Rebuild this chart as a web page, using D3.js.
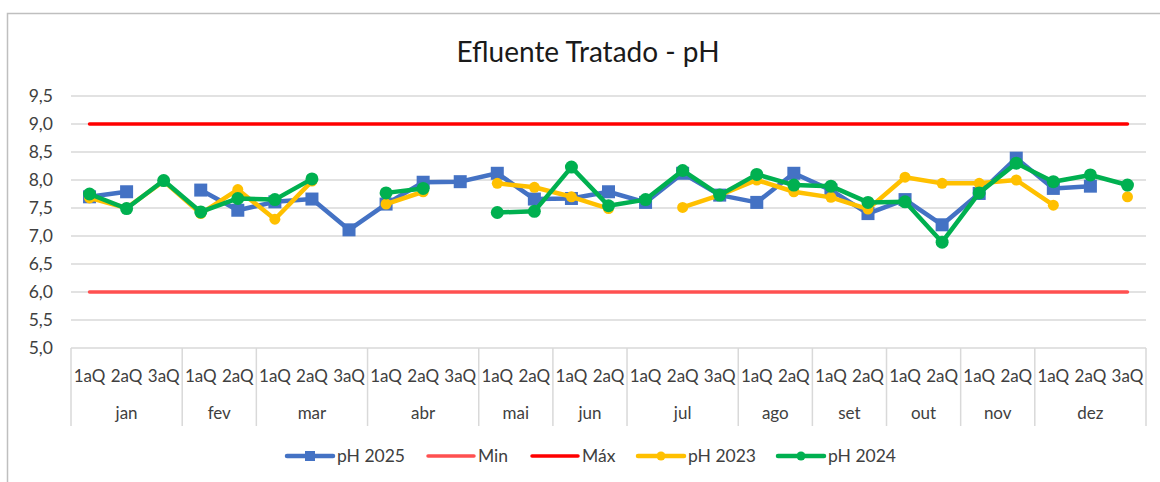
<!DOCTYPE html>
<html>
<head>
<meta charset="utf-8">
<script src="https://cdn.jsdelivr.net/npm/d3@7"></script>
<style>
  html, body { margin: 0; padding: 0; background: #fff; }
  svg { display: block; font-family: Lato, "Open Sans", sans-serif; }
</style>
</head>
<body>
<svg id="chart" width="1160" height="482"></svg>
<script>
// ---- data ----
const monthLabels = ["jan","jan","jan","fev","fev","mar","mar","mar","abr","abr","abr","mai","mai","jun","jun","jul","jul","jul","ago","ago","set","set","out","out","nov","nov","dez","dez","dez"];
const subLabels   = ["1aQ","2aQ","3aQ","1aQ","2aQ","1aQ","2aQ","3aQ","1aQ","2aQ","3aQ","1aQ","2aQ","1aQ","2aQ","1aQ","2aQ","3aQ","1aQ","2aQ","1aQ","2aQ","1aQ","2aQ","1aQ","2aQ","1aQ","2aQ","3aQ"];
const ph2025 = [7.70,7.79,null,7.82,7.46,7.61,7.66,7.11,7.57,7.96,7.97,8.12,7.66,7.67,7.79,7.60,8.12,7.73,7.60,8.12,7.82,7.40,7.65,7.20,7.76,8.39,7.85,7.89,null];
const minVals = [6.0,6.0,6.0,6.0,6.0,6.0,6.0,6.0,6.0,6.0,6.0,6.0,6.0,6.0,6.0,6.0,6.0,6.0,6.0,6.0,6.0,6.0,6.0,6.0,6.0,6.0,6.0,6.0,6.0];
const maxVals = [9.0,9.0,9.0,9.0,9.0,9.0,9.0,9.0,9.0,9.0,9.0,9.0,9.0,9.0,9.0,9.0,9.0,9.0,9.0,9.0,9.0,9.0,9.0,9.0,9.0,9.0,9.0,9.0,9.0];
const ph2023 = [7.68,7.50,7.98,7.40,7.83,7.30,7.98,null,7.57,7.79,null,7.94,7.87,7.70,7.49,null,7.51,7.73,8.00,7.79,7.69,7.48,8.05,7.94,7.94,8.00,7.55,null,7.70];
const ph2024 = [7.75,7.49,7.99,7.43,7.67,7.65,8.02,null,7.77,7.85,null,7.42,7.44,8.23,7.54,7.65,8.17,7.73,8.10,7.91,7.89,7.60,7.61,6.89,7.77,8.30,7.97,8.09,7.91];
const yTicks = [5.0,5.5,6.0,6.5,7.0,7.5,8.0,8.5,9.0,9.5];
const title = "Efluente Tratado - pH";

// ---- layout ----
const svg = d3.select("#chart");
const plot = { left: 71, right: 1146, top: 96, bottom: 348 };
const idx = d3.range(subLabels.length);
const x = d3.scaleBand().domain(idx).range([plot.left, plot.right]).padding(0);
const y = d3.scaleLinear().domain([5, 9.5]).range([plot.bottom, plot.top]);
const cx = i => x(i) + x.bandwidth() / 2;
const textColor = "#404040";
const grid = "#d9d9d9";

// outer chart border
svg.append("rect").attr("x", 7.5).attr("y", 13.5).attr("width", 1170).attr("height", 500)
  .attr("fill", "none").attr("stroke", "#bfbfbf").attr("stroke-width", 1.5);

// title
svg.append("text").attr("x", 588).attr("y", 62).attr("text-anchor", "middle")
  .attr("font-size", 28).attr("fill", "#1a1a1a").text(title);

// gridlines
svg.append("g").selectAll("line").data(yTicks).join("line")
  .attr("x1", plot.left).attr("x2", plot.right)
  .attr("y1", d => y(d)).attr("y2", d => y(d))
  .attr("stroke", grid).attr("stroke-width", 1.5);

// y axis labels
const yAxis = d3.axisLeft(y).tickValues(yTicks).tickSize(0).tickPadding(0)
  .tickFormat(d => d3.format(".1f")(d).replace(".", ","));
const gy = svg.append("g").attr("transform", `translate(53,0)`).call(yAxis);
gy.select(".domain").remove();
gy.selectAll("text").attr("font-size", 17.5).attr("fill", textColor).attr("font-family", "Lato, sans-serif");

// x axis: sub labels
const xAxis = d3.axisBottom(x).tickSize(0).tickPadding(0).tickFormat(i => subLabels[i]);
const gx = svg.append("g").attr("transform", `translate(0,${plot.bottom + 22})`).call(xAxis);
gx.select(".domain").remove();
gx.selectAll("text").attr("font-size", 17).attr("fill", textColor).attr("font-family", "Lato, sans-serif");

// month groups
const groups = [];
idx.forEach(i => {
  const m = monthLabels[i];
  if (groups.length && groups[groups.length - 1].m === m && groups[groups.length - 1].end === i - 1) {
    groups[groups.length - 1].end = i;
  } else groups.push({ m, start: i, end: i });
});
const bounds = [x(0)].concat(groups.map(g => x(g.end) + x.bandwidth()));
svg.append("g").selectAll("line").data(bounds).join("line")
  .attr("x1", d => d).attr("x2", d => d)
  .attr("y1", plot.bottom).attr("y2", 426)
  .attr("stroke", grid).attr("stroke-width", 1.5);
svg.append("g").selectAll("text").data(groups).join("text")
  .attr("x", g => (x(g.start) + x(g.end) + x.bandwidth()) / 2)
  .attr("y", 419).attr("text-anchor", "middle")
  .attr("font-size", 17).attr("fill", textColor).text(g => g.m);

// series
const series = [
  { name: "pH 2025", values: ph2025, color: "#4472c4", marker: "square", size: 13, width: 4.5 },
  { name: "Min",     values: minVals, color: "#ff5050", marker: null, width: 3.5 },
  { name: "Máx",     values: maxVals, color: "#ff0000", marker: null, width: 3.5 },
  { name: "pH 2023", values: ph2023, color: "#ffc000", marker: "circle", size: 5.5, width: 4.5 },
  { name: "pH 2024", values: ph2024, color: "#00b050", marker: "circle", size: 6.5, width: 4.5 }
];
const line = d3.line().defined(d => d.v != null).x(d => cx(d.i)).y(d => y(d.v));

series.forEach(s => {
  const pts = s.values.map((v, i) => ({ i, v }));
  const g = svg.append("g");
  g.append("path").datum(pts).attr("d", line).attr("fill", "none")
    .attr("stroke", s.color).attr("stroke-width", s.width)
    .attr("stroke-linejoin", "round").attr("stroke-linecap", "round");
  const valid = pts.filter(d => d.v != null);
  if (s.marker === "square") {
    g.selectAll("rect").data(valid).join("rect")
      .attr("x", d => cx(d.i) - s.size / 2).attr("y", d => y(d.v) - s.size / 2)
      .attr("width", s.size).attr("height", s.size).attr("fill", s.color);
  } else if (s.marker === "circle") {
    g.selectAll("circle").data(valid).join("circle")
      .attr("cx", d => cx(d.i)).attr("cy", d => y(d.v)).attr("r", s.size).attr("fill", s.color);
  }
});

// legend
const legendX = [287, 428, 532, 638, 778];
const ly = 456;
const lg = svg.append("g");
series.forEach((s, k) => {
  const x0 = legendX[k];
  lg.append("line").attr("x1", x0).attr("x2", x0 + 46).attr("y1", ly).attr("y2", ly)
    .attr("stroke", s.color).attr("stroke-width", s.width).attr("stroke-linecap", "round");
  if (s.marker === "square") {
    lg.append("rect").attr("x", x0 + 23 - 5).attr("y", ly - 5).attr("width", 10).attr("height", 10).attr("fill", s.color);
  } else if (s.marker === "circle") {
    lg.append("circle").attr("cx", x0 + 23).attr("cy", ly).attr("r", 4.5).attr("fill", s.color);
  }
  lg.append("text").attr("x", x0 + 50).attr("y", ly + 6).attr("font-size", 17.5)
    .attr("fill", textColor).text(s.name);
});
</script>
</body>
</html>
